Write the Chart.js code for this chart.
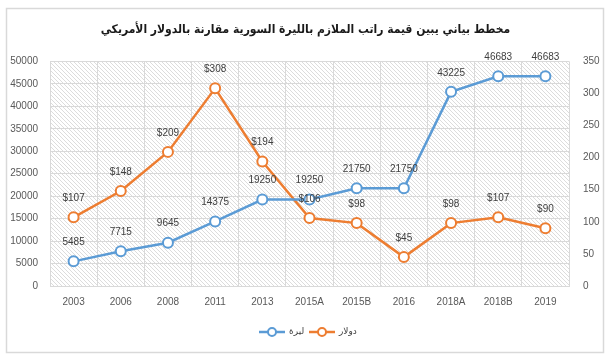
<!DOCTYPE html>
<html>
<head>
<meta charset="utf-8">
<script src="https://cdn.jsdelivr.net/npm/chart.js@4"></script>
<style>
  html, body { margin: 0; padding: 0; background: #fff; }
  #wrap { width: 611px; height: 361px; }
</style>
</head>
<body>
<div id="wrap"><canvas id="salaryChart" width="611" height="361"></canvas></div>
<script>
const years = ['2003', '2006', '2008', '2011', '2013', '2015A', '2015B', '2016', '2018A', '2018B', '2019'];
const liraValues = [5485, 7715, 9645, 14375, 19250, 19250, 21750, 21750, 43225, 46683, 46683];
const dollarValues = [107, 148, 209, 308, 194, 106, 98, 45, 98, 107, 90];
const liraTicks = [0, 5000, 10000, 15000, 20000, 25000, 30000, 35000, 40000, 45000, 50000];
const dollarTicks = [0, 50, 100, 150, 200, 250, 300, 350];

const blue = '#5b9bd5';
const orange = '#ed7d31';
const tickFont = { family: 'Liberation Sans', size: 10 };

// diagonal hatch behind the plot area
function hatch() {
    const c = document.createElement('canvas');
    c.width = 4; c.height = 4;
    const g = c.getContext('2d');
    g.fillStyle = '#fff';
    g.fillRect(0, 0, 4, 4);
    g.strokeStyle = '#dcdcdc';
    g.lineWidth = 1;
    g.beginPath();
    g.moveTo(-1, -1); g.lineTo(5, 5);
    g.moveTo(-1, 3); g.lineTo(1, 5);
    g.moveTo(3, -1); g.lineTo(5, 1);
    g.stroke();
    return g.createPattern(c, 'repeat');
}

const decor = {
    id: 'decor',
    beforeDraw(chart) {
        const ctx = chart.ctx;
        const a = chart.chartArea;
        ctx.save();
        ctx.strokeStyle = '#d9d9d9';
        ctx.lineWidth = 1.5;
        ctx.strokeRect(6.5, 8.5, 597, 344);
        ctx.fillStyle = hatch();
        ctx.fillRect(a.left, a.top, a.right - a.left, a.bottom - a.top);
        ctx.restore();
    },
    afterDatasetsDraw(chart) {
        const ctx = chart.ctx;
        ctx.save();
        ctx.font = '10px "Liberation Sans"';
        ctx.fillStyle = '#404040';
        ctx.textAlign = 'center';
        ctx.textBaseline = 'middle';
        chart.data.datasets.forEach((ds, i) => {
            chart.getDatasetMeta(i).data.forEach((pt, j) => {
                const txt = (i === 1 ? '$' : '') + ds.data[j];
                ctx.fillText(txt, pt.x, pt.y - 19);
            });
        });
        // legend
        const items = [['ليرة', blue, 259], ['دولار', orange, 309]];
        const y = 332;
        items.forEach(([label, col, x]) => {
            ctx.strokeStyle = col;
            ctx.lineWidth = 2.5;
            ctx.beginPath();
            ctx.moveTo(x, y); ctx.lineTo(x + 26, y);
            ctx.stroke();
            ctx.beginPath();
            ctx.arc(x + 13, y, 4, 0, Math.PI * 2);
            ctx.fillStyle = '#fff';
            ctx.fill();
            ctx.lineWidth = 2;
            ctx.stroke();
            ctx.fillStyle = '#404040';
            ctx.textAlign = 'left';
            ctx.font = '9px "DejaVu Sans"';
            ctx.fillText(label, x + 30, y);
        });
        ctx.restore();
    }
};

new Chart(document.getElementById('salaryChart').getContext('2d'), {
    type: 'line',
    data: {
        labels: years,
        datasets: [{
            label: 'ليرة',
            data: liraValues,
            yAxisID: 'y',
            borderColor: blue,
            borderWidth: 2.5,
            pointRadius: 5,
            pointBorderWidth: 2,
            pointBackgroundColor: '#fff',
            pointBorderColor: blue
        }, {
            label: 'دولار',
            data: dollarValues,
            yAxisID: 'y1',
            borderColor: orange,
            borderWidth: 2.5,
            pointRadius: 5,
            pointBorderWidth: 2,
            pointBackgroundColor: '#fff',
            pointBorderColor: orange
        }]
    },
    options: {
        responsive: false,
        animation: false,
        devicePixelRatio: 1,
        layout: { padding: { left: 0, right: 0, top: 0, bottom: 45 } },
        plugins: {
            legend: { display: false },
            tooltip: { enabled: false },
            title: {
                display: true,
                text: 'مخطط بياني يبين قيمة راتب الملازم بالليرة السورية مقارنة بالدولار الأمريكي',
                font: { family: 'DejaVu Sans Condensed', size: 12, weight: 'bold' },
                color: '#1a1a1a',
                padding: { top: 23, bottom: 24 }
            }
        },
        scales: {
            x: {
                offset: true,
                grid: { color: '#d9d9d9', offset: true, drawTicks: false },
                border: { color: '#d9d9d9' },
                ticks: { font: tickFont, color: '#595959', padding: 10 },
                afterFit: s => { s.height = 30; }
            },
            y: {
                position: 'left',
                min: 0,
                max: 50000,
                afterBuildTicks: s => { s.ticks = liraTicks.map(v => ({ value: v })); },
                grid: { color: '#d9d9d9', drawTicks: false },
                border: { display: false },
                ticks: { font: tickFont, color: '#595959', padding: 12, callback: v => String(v) },
                afterFit: s => { s.width = 50; }
            },
            y1: {
                position: 'right',
                min: 0,
                max: 350,
                afterBuildTicks: s => { s.ticks = dollarTicks.map(v => ({ value: v })); },
                grid: { drawOnChartArea: false, drawTicks: false },
                border: { display: false },
                ticks: { font: tickFont, color: '#595959', padding: 14, callback: v => String(v) },
                afterFit: s => { s.width = 42; }
            }
        }
    },
    plugins: [decor]
});
</script>
</body>
</html>
